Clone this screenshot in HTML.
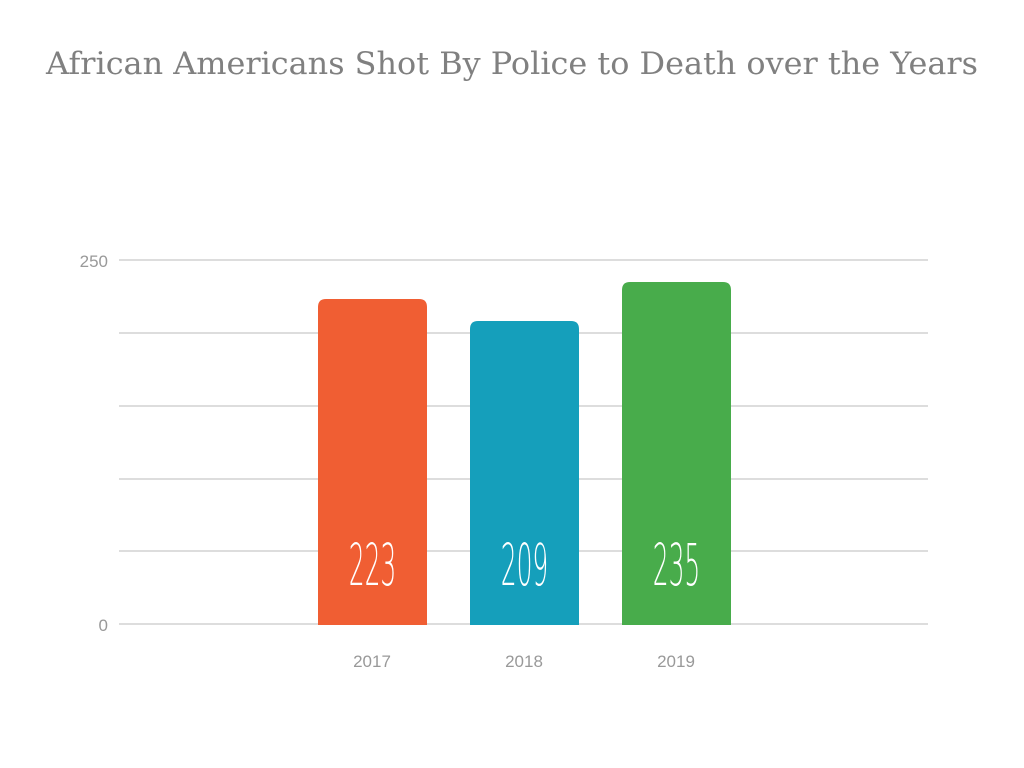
<!DOCTYPE html>
<html>
<head>
<meta charset="utf-8">
<style>
  html, body { margin: 0; padding: 0; background: #ffffff; }
  body { width: 1024px; height: 768px; overflow: hidden; }
  svg { display: block; }
</style>
</head>
<body>
<svg width="1024" height="768" viewBox="0 0 1024 768" xmlns="http://www.w3.org/2000/svg">
  <rect x="0" y="0" width="1024" height="768" fill="#ffffff"/>
  <!-- Title -->
  <text x="512" y="74" text-anchor="middle" font-family="'DejaVu Serif', 'Liberation Serif', serif" font-size="31" fill="#808080" textLength="932" lengthAdjust="spacingAndGlyphs">African Americans Shot By Police to Death over the Years</text>

  <!-- Gridlines -->
  <g stroke="#dddddd" stroke-width="2">
    <line x1="119" y1="260" x2="928" y2="260"/>
    <line x1="119" y1="333" x2="928" y2="333"/>
    <line x1="119" y1="406" x2="928" y2="406"/>
    <line x1="119" y1="479" x2="928" y2="479"/>
    <line x1="119" y1="551" x2="928" y2="551"/>
    <line x1="119" y1="624" x2="928" y2="624"/>
  </g>

  <!-- Y axis labels -->
  <g font-family="'Liberation Sans', sans-serif" font-size="17" fill="#999999" text-anchor="end">
    <text x="108" y="267">250</text>
    <text x="108" y="631">0</text>
  </g>

  <!-- Bars -->
  <path d="M318,625 L318,307 Q318,299 326,299 L419,299 Q427,299 427,307 L427,625 Z" fill="#f05e33"/>
  <path d="M470,625 L470,329 Q470,321 478,321 L571,321 Q579,321 579,329 L579,625 Z" fill="#159fbb"/>
  <path d="M622,625 L622,290 Q622,282 630,282 L723,282 Q731,282 731,290 L731,625 Z" fill="#48ac4b"/>

  <!-- Value labels -->
  <g font-family="'DejaVu Sans', 'Liberation Sans', sans-serif" font-weight="200" font-size="58" fill="#ffffff" text-anchor="middle">
    <text transform="translate(372.5,585) scale(0.43,1)" x="0" y="0">223</text>
    <text transform="translate(524.5,585) scale(0.43,1)" x="0" y="0">209</text>
    <text transform="translate(676.5,585) scale(0.43,1)" x="0" y="0">235</text>
  </g>

  <!-- X axis labels -->
  <g font-family="'Liberation Sans', sans-serif" font-size="17" fill="#999999" text-anchor="middle">
    <text x="372" y="667">2017</text>
    <text x="524" y="667">2018</text>
    <text x="676" y="667">2019</text>
  </g>
</svg>
</body>
</html>
